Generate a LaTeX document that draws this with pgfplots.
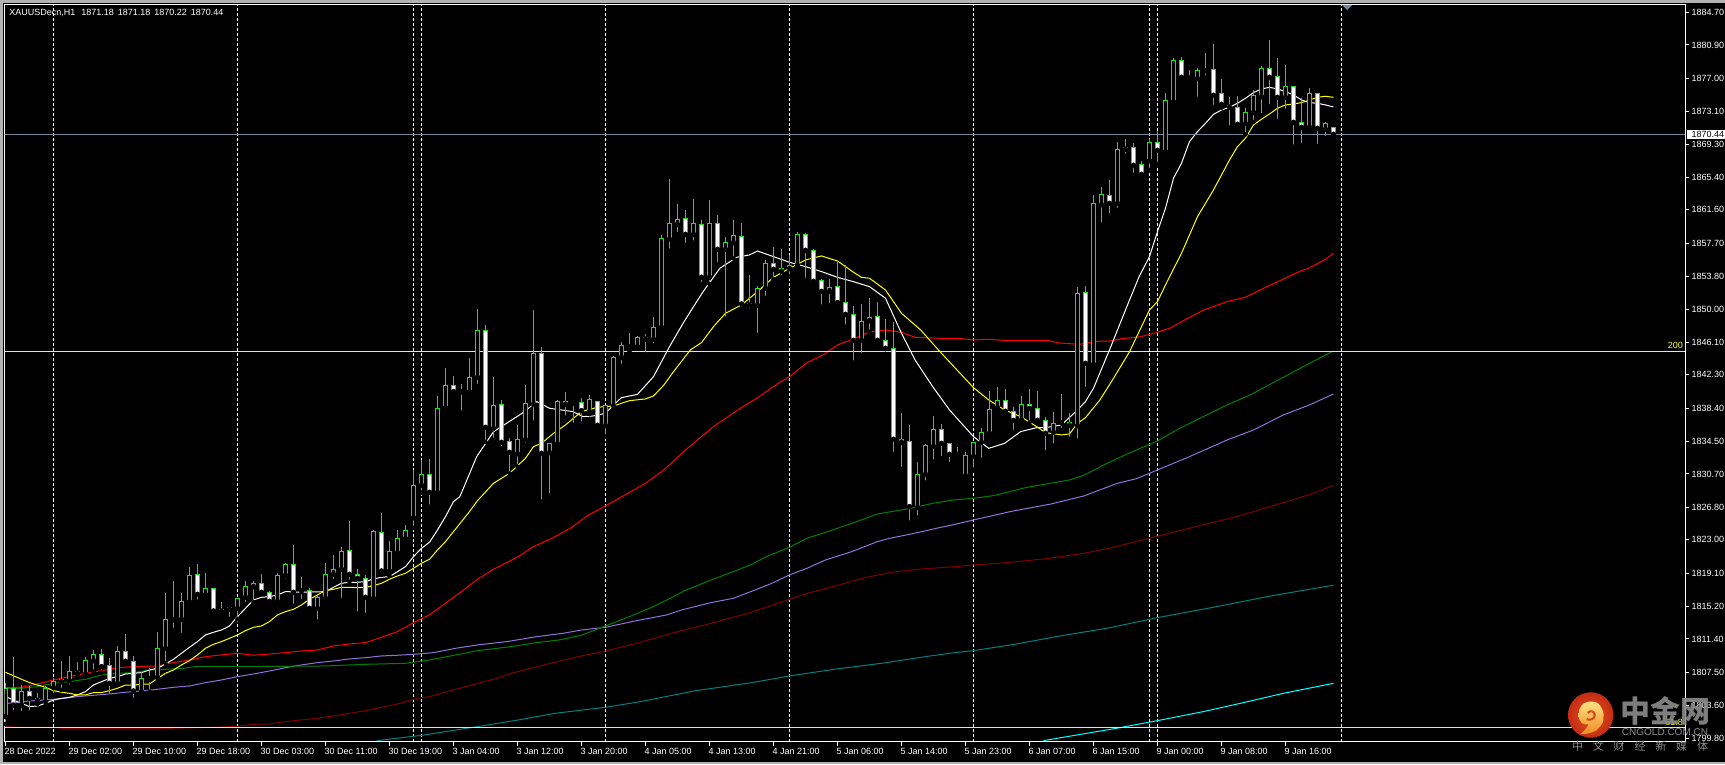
\documentclass[border=0pt]{standalone}
\usepackage{fontspec}
\usepackage{pgfplots}
\usepackage{pgfplotstable}
\pgfplotsset{compat=1.18}
\setmainfont{Liberation Sans}
\newfontfamily\cjk{Noto Sans CJK SC}
\definecolor{cgreen}{RGB}{25,230,25}
\definecolor{mapurple}{RGB}{147,112,219}
\definecolor{hgray}{RGB}{119,136,153}
\definecolor{mayel}{RGB}{255,255,0}
\definecolor{macya}{RGB}{0,255,255}
\definecolor{mared}{RGB}{255,0,0}
\definecolor{magre}{RGB}{0,128,0}
\definecolor{madrd}{RGB}{128,0,0}
\definecolor{matea}{RGB}{0,128,128}

% hourly candles: bar number, open, high, low, close
\pgfplotstableread{
i o h l c
0 1802.31 1806.21 1801.45 1805.62
1 1805.62 1809.33 1802.78 1803.67
2 1803.67 1806.01 1802.70 1805.23
3 1805.23 1805.90 1802.78 1804.45
4 1804.45 1805.12 1803.79 1804.18
5 1804.06 1805.90 1803.56 1805.62
6 1805.70 1806.79 1804.84 1806.40
7 1806.60 1808.82 1805.43 1806.40
8 1806.52 1809.41 1805.82 1807.57
9 1807.61 1808.67 1806.99 1807.38
10 1807.30 1809.33 1806.99 1808.86
11 1808.86 1810.11 1807.57 1809.60
12 1809.60 1810.23 1807.46 1808.16
13 1808.28 1809.21 1804.65 1806.21
14 1806.21 1810.58 1806.13 1809.91
15 1809.91 1811.94 1808.74 1808.78
16 1808.74 1809.41 1804.26 1805.31
17 1805.23 1807.57 1804.65 1806.79
18 1806.76 1807.96 1805.23 1806.70
19 1806.91 1812.18 1806.79 1810.30
20 1810.30 1816.74 1808.55 1813.70
21 1813.70 1818.22 1812.45 1813.64
22 1813.70 1816.74 1811.86 1815.76
23 1815.76 1819.78 1815.76 1818.85
24 1818.96 1820.17 1815.76 1816.62
25 1816.58 1819.08 1816.35 1817.32
26 1817.32 1817.32 1814.20 1814.67
27 1814.87 1815.69 1814.40 1814.63
28 1814.87 1815.06 1813.74 1815.06
29 1814.98 1816.15 1813.70 1816.15
30 1816.27 1818.18 1815.49 1817.52
31 1817.52 1818.18 1815.69 1817.91
32 1817.91 1818.96 1816.74 1816.86
33 1816.82 1817.05 1815.37 1815.80
34 1815.80 1819.08 1815.76 1818.85
35 1818.85 1820.25 1818.22 1820.13
36 1820.13 1822.36 1815.26 1816.86
37 1817.05 1818.61 1815.84 1816.99
38 1817.05 1817.32 1814.71 1814.98
39 1814.98 1816.54 1813.42 1816.27
40 1816.15 1820.25 1815.96 1818.96
41 1818.96 1821.22 1818.18 1819.55
42 1819.55 1822.12 1815.96 1821.61
43 1821.73 1825.20 1818.10 1818.96
44 1818.92 1819.59 1814.40 1818.49
45 1818.46 1818.88 1814.20 1816.27
46 1816.15 1824.15 1816.15 1823.99
47 1823.84 1826.10 1818.88 1819.35
48 1819.35 1822.86 1818.77 1821.61
49 1821.50 1824.15 1821.42 1823.14
50 1823.14 1824.73 1822.90 1824.07
51 1825.59 1831.17 1824.38 1829.38
52 1829.38 1832.34 1828.52 1830.66
53 1830.66 1832.46 1826.88 1828.56
54 1828.56 1839.83 1828.24 1838.38
55 1838.46 1843.10 1838.46 1841.08
56 1841.08 1842.17 1840.14 1840.33
57 1840.37 1841.19 1837.88 1840.31
58 1840.33 1844.27 1839.94 1842.01
59 1842.01 1850.01 1841.00 1847.51
60 1847.51 1848.13 1834.45 1836.16
61 1836.04 1842.05 1834.68 1838.74
62 1838.85 1839.36 1833.67 1834.41
63 1834.48 1834.87 1830.78 1833.24
64 1833.08 1836.43 1831.56 1834.76
65 1834.72 1841.11 1834.09 1838.97
66 1838.85 1849.89 1836.71 1844.82
67 1844.82 1845.52 1827.46 1833.12
68 1833.20 1834.29 1828.17 1834.29
69 1834.25 1839.36 1834.02 1839.20
70 1839.16 1840.30 1837.29 1838.85
71 1839.05 1839.36 1836.43 1838.99
72 1839.09 1839.55 1836.59 1838.11
73 1837.99 1839.94 1837.72 1839.44
74 1839.20 1839.20 1836.36 1836.40
75 1836.36 1838.66 1835.07 1838.66
76 1838.66 1844.51 1838.19 1844.35
77 1844.35 1846.15 1843.34 1845.76
78 1845.60 1847.16 1845.01 1845.54
79 1845.60 1846.89 1845.40 1846.69
80 1846.65 1847.08 1844.70 1846.46
81 1846.46 1849.03 1845.72 1847.86
82 1847.86 1858.63 1847.35 1858.24
83 1858.16 1865.22 1856.83 1860.03
84 1859.91 1862.29 1858.78 1860.50
85 1860.58 1861.59 1857.49 1858.74
86 1858.74 1862.88 1857.77 1860.03
87 1859.91 1860.42 1852.93 1853.71
88 1853.71 1862.76 1852.93 1860.03
89 1860.03 1861.00 1855.27 1856.99
90 1856.99 1858.39 1848.88 1857.81
91 1857.77 1860.42 1855.93 1858.63
92 1858.47 1860.03 1850.01 1850.59
93 1850.59 1853.98 1849.81 1850.44
94 1850.44 1852.70 1846.96 1852.42
95 1852.42 1855.74 1851.29 1855.35
96 1855.35 1857.22 1853.48 1854.65
97 1854.41 1857.03 1853.71 1854.76
98 1854.73 1856.32 1853.79 1855.12
99 1855.12 1859.05 1855.04 1858.74
100 1858.70 1858.94 1853.40 1856.87
101 1856.87 1857.03 1853.20 1853.24
102 1853.32 1853.48 1850.28 1852.07
103 1852.07 1853.52 1850.47 1852.54
104 1852.62 1855.62 1850.67 1850.75
105 1850.75 1855.12 1847.94 1849.38
106 1849.38 1850.36 1843.73 1846.34
107 1846.34 1850.59 1844.62 1848.52
108 1848.64 1851.29 1847.35 1849.03
109 1849.11 1850.79 1846.07 1846.34
110 1846.34 1848.84 1844.74 1845.40
111 1845.40 1848.45 1833.04 1834.76
112 1834.76 1837.80 1831.29 1834.41
113 1834.48 1836.44 1825.01 1826.88
114 1826.80 1832.11 1825.59 1830.66
115 1830.66 1834.21 1829.69 1833.98
116 1833.94 1837.49 1832.14 1835.93
117 1835.93 1836.55 1832.53 1834.29
118 1834.29 1834.29 1831.87 1833.00
119 1833.04 1833.86 1832.46 1832.98
120 1830.51 1833.28 1830.51 1832.89
121 1832.77 1834.41 1831.25 1834.41
122 1834.41 1836.08 1832.34 1835.58
123 1835.46 1840.41 1835.46 1838.27
124 1838.46 1840.84 1838.11 1839.32
125 1839.32 1840.65 1837.96 1838.03
126 1838.03 1838.58 1835.62 1836.98
127 1837.02 1839.83 1836.90 1838.85
128 1838.85 1840.65 1836.71 1838.38
129 1838.38 1840.45 1836.63 1836.98
130 1836.94 1837.33 1833.20 1835.46
131 1835.58 1837.92 1834.02 1836.63
132 1836.71 1840.06 1835.85 1836.65
133 1836.75 1837.80 1834.80 1836.40
134 1836.36 1852.54 1834.60 1851.84
135 1851.96 1852.70 1840.65 1843.65
136 1843.53 1863.34 1843.53 1862.37
137 1862.21 1864.24 1859.87 1863.42
138 1863.31 1865.10 1860.93 1862.37
139 1862.37 1869.55 1861.59 1868.69
140 1868.69 1869.90 1867.91 1868.92
141 1868.92 1869.39 1865.68 1866.82
142 1866.93 1867.32 1865.61 1865.76
143 1867.36 1869.86 1866.27 1869.51
144 1869.51 1870.87 1866.97 1868.57
145 1868.41 1875.24 1868.06 1874.42
146 1874.26 1879.33 1874.15 1879.10
147 1879.10 1879.49 1876.60 1877.11
148 1877.07 1877.97 1876.68 1877.01
149 1876.96 1878.16 1874.58 1877.93
150 1877.93 1879.96 1877.07 1877.87
151 1878.01 1881.01 1873.64 1875.01
152 1875.20 1876.88 1873.56 1873.95
153 1873.76 1874.77 1871.22 1873.60
154 1873.60 1874.93 1871.34 1871.61
155 1871.69 1873.48 1870.44 1873.02
156 1873.02 1875.63 1871.89 1875.01
157 1874.85 1878.44 1872.70 1878.16
158 1878.13 1881.48 1873.76 1877.11
159 1877.23 1879.37 1872.00 1874.77
160 1874.77 1878.52 1873.17 1876.02
161 1876.06 1876.06 1869.00 1871.85
162 1871.81 1874.69 1869.19 1871.26
163 1871.26 1875.82 1871.22 1875.24
164 1875.20 1875.24 1869.08 1871.14
165 1871.03 1871.89 1870.01 1871.73
166 1871.18 1871.18 1870.22 1870.44
}\candles

\pgfplotstableread{
i p
0 1804.65
1 1804.26
3 1803.48
4 1803.56
5 1803.87
6 1804.26
7 1804.45
8 1804.57
9 1804.85
10 1805.24
11 1806.02
12 1806.40
13 1806.79
14 1806.99
15 1807.30
16 1807.38
17 1807.46
18 1807.77
19 1807.97
20 1808.47
21 1809.02
22 1809.72
23 1810.42
24 1811.09
25 1811.87
26 1812.18
27 1812.45
28 1812.92
29 1814.01
30 1814.99
31 1815.96
32 1816.27
33 1816.35
34 1816.55
35 1816.94
36 1816.90
37 1816.86
38 1816.90
39 1816.90
40 1816.94
41 1817.44
42 1817.91
43 1818.03
44 1818.03
45 1818.11
46 1818.42
47 1818.61
48 1818.69
49 1819.27
50 1819.86
51 1821.03
52 1822.01
53 1822.71
54 1824.15
55 1825.71
56 1827.47
56.8 1828.05
58.9 1832.73
61 1835.65
62.5 1836.55
64.7 1837.88
66.4 1839.17
68 1838.39
70.9 1838.00
72.2 1837.41
73.5 1837.49
75 1837.80
76 1838.78
77 1839.63
79 1840.02
81 1842.09
83 1845.60
84.7 1848.33
86 1850.28
87.2 1852.03
89.3 1854.77
91.4 1856.05
93 1856.33
94 1856.79
96 1856.13
98 1855.47
100 1854.96
102 1854.38
104 1853.71
106 1853.20
108 1852.62
110 1851.26
112 1847.16
113.7 1844.04
115.9 1840.92
118 1838.19
121 1835.07
122.9 1833.70
124.9 1834.29
126.9 1835.66
128.9 1836.12
130 1836.12
132 1836.44
134 1838.19
135 1839.17
136 1840.73
138 1845.21
140 1849.89
141.7 1853.79
143 1856.13
144 1859.06
145 1861.79
146 1865.30
147 1867.05
148 1869.59
149 1870.76
150 1871.73
151 1872.78
152 1873.29
153 1873.60
154 1874.07
155 1874.66
156 1875.32
157 1875.75
158 1875.94
159 1875.75
160 1875.44
161 1875.05
162 1874.46
163 1874.15
164 1874.07
165 1873.88
166 1873.64
}\mawhite

\pgfplotstableread{
i p
0 1807.50
2 1806.68
3 1806.29
4 1806.01
5 1805.74
6 1805.35
7 1805.16
8 1805.04
9 1804.85
10 1804.85
11 1805.12
12 1805.12
13 1805.35
14 1805.63
15 1806.01
16 1806.01
17 1806.09
18 1806.13
19 1806.79
20 1807.38
21 1807.77
22 1808.36
23 1808.86
24 1809.53
25 1810.31
26 1810.77
27 1811.09
28 1811.47
29 1811.87
30 1812.37
31 1812.76
32 1812.92
33 1813.43
34 1814.21
35 1814.60
36 1814.87
37 1815.38
38 1816.04
39 1816.55
40 1817.05
41 1817.21
42 1817.44
43 1817.44
44 1817.40
45 1817.44
46 1817.64
47 1817.91
48 1818.38
49 1818.77
50 1819.08
51 1819.67
52 1820.25
53 1820.72
54 1821.81
55 1822.79
56 1823.96
57 1825.13
58 1826.30
59 1827.58
61 1829.61
63 1830.78
65 1832.54
66 1833.90
67 1834.29
68.5 1835.46
70 1836.44
72 1838.00
74 1838.50
76 1838.66
78 1839.28
80 1839.48
81 1839.83
82.3 1841.11
83.5 1842.67
85.6 1845.21
87 1846.07
88.5 1847.94
90 1849.50
92 1850.48
94 1852.03
96 1853.71
98 1854.76
100 1855.74
102 1856.21
104 1855.62
106 1854.30
107 1853.71
108 1853.60
110 1852.23
112 1849.50
114.4 1847.55
116.8 1845.02
121 1840.80
122.9 1839.36
124.9 1838.19
126.9 1837.41
128.9 1836.24
130 1835.54
132 1835.27
133 1835.38
134 1836.63
135 1837.29
136.8 1839.36
138.5 1841.89
140.5 1845.00
141.8 1847.55
143 1849.89
144 1850.87
145.2 1853.20
147 1856.52
149 1860.81
151 1863.93
153 1867.44
154 1869.00
155 1869.98
156 1871.54
157 1872.20
158 1872.82
159 1873.49
160 1873.88
161 1873.99
162 1874.15
163 1874.46
164 1874.77
165 1874.89
166 1874.77
}\mayellow

\pgfplotstableread{
i p
0 1805.70
2 1805.74
4 1806.13
6 1806.60
8 1806.99
10 1807.38
12 1807.69
14 1808.04
16 1808.16
19 1808.24
21 1808.63
23 1808.94
25 1809.33
27 1809.53
29 1809.72
31 1809.49
33 1809.64
35 1809.80
37 1809.99
39 1810.11
41 1810.58
43 1810.81
45 1810.97
47 1811.59
49 1812.25
51 1813.31
53 1814.21
55 1815.57
57 1816.94
59 1818.38
61 1819.55
64.1 1821.03
66 1822.20
68.3 1823.17
70.6 1824.35
72.9 1825.91
75 1826.96
80 1829.61
82.3 1831.17
85 1833.51
88.5 1836.24
91.4 1838.11
93.9 1839.55
96.8 1841.43
98 1842.09
100.2 1843.73
102.2 1844.63
104 1845.80
106 1846.50
108 1847.32
110 1847.55
112 1847.28
113.7 1846.69
116.7 1846.58
119 1846.58
121 1846.38
122.7 1846.46
124.8 1846.34
130.2 1846.34
131.7 1846.03
134.2 1845.87
136.5 1846.22
138.1 1846.26
139.6 1846.54
141.7 1846.73
144 1847.28
145.6 1847.78
147.7 1848.88
149.8 1849.89
152.7 1850.87
155 1851.37
156.8 1852.23
159.3 1853.32
161.8 1854.41
162.9 1854.77
165 1855.82
166 1856.52
}\mared

\pgfplotstableread{
i p
0 1805.63
2 1805.63
4 1805.82
6 1806.21
8 1806.40
10 1806.68
12 1807.19
14 1807.38
16 1807.46
18 1807.77
20 1807.85
22 1807.93
24 1808.20
29 1808.20
35 1808.20
40 1808.24
45 1808.43
50 1808.55
53 1808.94
56.3 1809.53
59 1810.03
63.2 1810.50
66.4 1810.97
69.2 1811.28
72 1811.83
75 1812.92
78 1814.01
80.8 1815.10
83.1 1816.16
84.9 1817.05
88.2 1818.30
91 1819.28
93.3 1820.13
95.1 1821.03
97.9 1822.08
100.2 1823.18
103 1824.03
105.8 1824.93
109 1826.02
113.2 1826.69
115.9 1827.27
118.5 1827.66
121 1827.86
123.5 1828.17
127.7 1829.14
133 1830.00
134.7 1830.51
137.7 1831.95
140.2 1833.04
144 1834.56
146.4 1835.85
149.3 1837.22
152.7 1838.78
155.6 1839.95
159.1 1841.70
162.5 1843.40
166 1845.10
}\magreen

\pgfplotstableread{
i p
0.3 1803.87
1 1803.95
3 1804.14
5 1804.26
7 1804.42
9 1804.65
11 1804.81
13 1804.96
15 1805.16
17 1805.31
19 1805.51
21 1805.74
23 1805.90
25 1806.29
27 1806.60
29 1806.99
31 1807.30
33 1807.65
35 1808.04
37 1808.36
39 1808.63
41 1808.82
43 1809.06
45 1809.21
47 1809.41
49 1809.49
51 1809.60
53.5 1809.80
56.3 1810.31
59 1810.70
62.7 1811.09
66.4 1811.67
69.7 1812.06
72 1812.45
75 1812.76
78.9 1813.54
82.6 1814.20
84.5 1814.79
88.2 1815.65
91 1816.16
93.7 1817.13
95.6 1817.83
98 1818.89
100.2 1819.67
102.5 1820.64
105.8 1821.62
109 1822.79
110.4 1823.14
114 1823.84
116.9 1824.46
118 1824.66
121 1825.32
125.6 1826.30
130.7 1827.19
134.8 1828.13
139 1829.61
141.4 1830.16
144 1831.17
148 1832.73
152.7 1834.68
156 1835.85
159.75 1837.61
163 1838.78
166 1840.06
}\mapurple

\pgfplotstableread{
i p
0 1801.14
2 1801.06
6 1801.06
7 1800.95
21 1800.95
26 1801.06
29 1801.18
31 1801.41
33 1801.45
35 1801.73
37 1801.92
39 1802.12
41 1802.39
43 1802.70
45 1803.01
47 1803.40
49 1803.79
51 1804.34
53 1804.65
57.2 1805.74
61.4 1806.79
63.2 1807.38
67.8 1808.47
72 1809.41
75 1809.99
78.9 1810.89
83.6 1812.14
88.2 1813.23
92.8 1814.40
95.6 1815.26
98 1816.04
100.2 1816.74
103.9 1817.64
107.6 1818.61
110.8 1819.20
114 1819.55
118.7 1819.86
121 1820.06
125.2 1820.33
130.2 1820.80
134.8 1821.42
138 1822.01
143 1823.18
148 1824.35
153.9 1825.71
159.75 1827.35
163.5 1828.44
166 1829.38
}\madarkred

\pgfplotstableread{
i p
46.4 1799.50
52.1 1800.13
57.7 1800.95
64.1 1801.92
68.7 1802.70
75 1803.40
79.4 1804.07
86.3 1805.35
93.3 1806.29
98 1807.07
103.9 1807.89
109.5 1808.55
115 1809.33
118 1809.72
121 1810.03
126.4 1810.81
131.8 1811.75
137.7 1812.65
144 1813.89
151.4 1815.18
157.7 1816.35
163 1817.21
166 1817.68
}\mateal

\pgfplotstableread{
i p
129.75 1799.50
132.2 1799.89
138.9 1800.95
144 1801.84
149.75 1802.90
154.75 1803.95
159.75 1805.04
166 1806.21
}\macyan

\begin{document}
\begin{tikzpicture}[x=1pt,y=1pt]
\path[use as bounding box] (0,0) rectangle (1725,764);
\fill[black] (0,0) rectangle (1725,764);
% window edge
\fill[gray!60] (0,0) rectangle (3,764);
\fill[gray!60] (0,761) rectangle (1725,764);
\fill[gray!60] (0,0) rectangle (1725,2);
\begin{axis}[
at={(4.5pt,22.5pt)},
anchor=south west,
scale only axis,
width=1681pt,
height=737pt,
xmin=-0.125,
xmax=210,
ymin=1799.40,
ymax=1885.63,
clip mode=individual,
axis line style={white,line width=1pt},
xtick pos=lower,
ytick pos=right,
yticklabel pos=right,
tick align=outside,
major tick length=4pt,
tick style={white,line width=1pt},
xtick={0,8,16,24,32,40,48,56,64,72,80,88,96,104,112,120,128,136,144,152,160},
xticklabels={28 Dec 2022,29 Dec 02:00,29 Dec 10:00,29 Dec 18:00,30 Dec 03:00,30 Dec 11:00,30 Dec 19:00,3 Jan 04:00,3 Jan 12:00,3 Jan 20:00,4 Jan 05:00,4 Jan 13:00,4 Jan 21:00,5 Jan 06:00,5 Jan 14:00,5 Jan 23:00,6 Jan 07:00,6 Jan 15:00,9 Jan 00:00,9 Jan 08:00,9 Jan 16:00},
ytick={1799.8,1803.6,1807.5,1811.4,1815.2,1819.1,1823,1826.8,1830.7,1834.5,1838.4,1842.3,1846.1,1850,1853.8,1857.7,1861.6,1865.4,1869.3,1873.1,1877,1880.9,1884.7},
scaled y ticks=false,
/pgf/number format/fixed,
/pgf/number format/fixed zerofill,
/pgf/number format/precision=2,
/pgf/number format/1000 sep={},
/pgf/number format/assume math mode=true,
tick label style={font=\fontsize{9}{10}\selectfont,text=white},
xticklabel style={anchor=north west,inner xsep=0pt,xshift=-1pt,yshift=1pt},
yticklabel style={anchor=west,inner xsep=0pt,xshift=2pt},
extra x ticks={6,29,51,52,75,98,121,143,144,167},
extra x tick labels={},
extra x tick style={grid=major,major grid style={white,line width=1pt,dash pattern=on 3pt off 2pt},major tick length=0pt},
]
% moving averages
\addplot[mapurple,line width=1pt] table[x=i,y=p] {\mapurple};
\addplot[magre,line width=1pt] table[x=i,y=p] {\magreen};
\addplot[madrd,line width=1pt] table[x=i,y=p] {\madarkred};
\addplot[matea,line width=1pt] table[x=i,y=p] {\mateal};
\addplot[macya,line width=1pt] table[x=i,y=p] {\macyan};
\addplot[mared,line width=1pt] table[x=i,y=p] {\mared};
\addplot[white,line width=1pt] table[x=i,y=p] {\mawhite};
\addplot[mayel,line width=1pt] table[x=i,y=p] {\mayellow};
% level lines
\addplot[mayel,line width=1pt] coordinates {(-1,1845.03) (211,1845.03)};
\addplot[mayel,line width=1pt] coordinates {(-1,1801.03) (211,1801.03)};
\addplot[hgray,line width=1pt] coordinates {(-1,1870.42) (211,1870.42)};
% wicks
\addplot[only marks,mark=none,error bars/.cd,y dir=plus,y explicit,error mark=none,
error bar style={draw=cgreen,line width=1pt}]
table[x=i,y=l,y error plus expr={\thisrow{h}-\thisrow{l}}] {\candles};
% candle bodies: outline, then inside
\addplot[only marks,mark=none,error bars/.cd,y dir=plus,y explicit,error mark=none,
error bar style={draw=cgreen,line width=5pt}]
table[x=i,y expr={min(\thisrow{o},\thisrow{c})-0.0585},y error plus expr={abs(\thisrow{o}-\thisrow{c})+0.117}] {\candles};
\addplot[only marks,mark=none,error bars/.cd,y dir=plus,y explicit,error mark=none,
error bar style={draw=black,line width=3pt}]
table[x=i,y expr={min(\thisrow{o},\thisrow{c})+0.0585},y error plus expr={max(abs(\thisrow{o}-\thisrow{c})-0.117,0)}] {\candles};
\addplot[only marks,mark=none,error bars/.cd,y dir=plus,y explicit,error mark=none,
error bar style={draw=white,line width=3pt}]
table[x=i,y expr={min(\thisrow{o},\thisrow{c})+0.0585},y error plus expr={\thisrow{o}>\thisrow{c} ? max(\thisrow{o}-\thisrow{c}-0.117,0) : 0}] {\candles};
\node[anchor=west,inner sep=0pt,text=white,font=\fontsize{9}{10}\selectfont] at (axis cs:0.46,1884.7) {XAUUSDecn,H1\hspace{6pt}1871.18\hspace{4pt}1871.18\hspace{4pt}1870.22\hspace{4pt}1870.44};
\node[anchor=east,inner sep=0pt,text=mayel,font=\fontsize{9}{10}\selectfont] at (axis cs:209.7,1845.79) {200};
\node[anchor=east,inner sep=0pt,text=mayel,font=\fontsize{9}{10}\selectfont] at (axis cs:209.7,1801.68) {61.8};
\end{axis}
% shift marker
\fill[hgray] (1342,759) -- (1352,759) -- (1347,754) -- cycle;
% current price tag
\fill[white] (1687,625) rectangle (1725,634);
\node[anchor=west,inner sep=0pt,text=black,font=\fontsize{9}{10}\selectfont] at (1691.5,629.5) {1870.44};
% site logo
\begin{scope}[shift={(1590.7,49)}]
\shade[inner color={rgb,255:red,232;green,82;blue,28},outer color={rgb,255:red,196;green,44;blue,20}] (0,0) circle (22.7);
\shade[top color={rgb,255:red,255;green,226;blue,130},bottom color={rgb,255:red,238;green,140;blue,36}]
(-10.7,-19.3) .. controls (0,-19) and (6,-16) .. (7.7,-13.3) .. controls (11,-10) and (13,-7) .. (12.7,-3.3) .. controls (13,2) and (13,4) .. (11,6.7) .. controls (9,11) and (6,13) .. (2.7,13.3) .. controls (-1,14) and (-4,13) .. (-7,11.7) .. controls (-10,9) and (-12,5) .. (-12,1.7) .. controls (-12.5,-3) and (-11,-6) .. (-9,-8) .. controls (-7,-9.5) and (-4,-10) .. (-2,-9) .. controls (-4,-13) and (-7,-17) .. (-10.7,-19.3) -- cycle;
\draw[line width=2pt,color={rgb,255:red,214;green,70;blue,24}] (-4,-4) .. controls (-1,-6) and (4,-4) .. (4,0) .. controls (4,4) and (-1,5) .. (-3,2);
\end{scope}
\node[inner sep=0pt,text=gray!90,opacity=0.9,font=\cjk\bfseries\fontsize{30}{32}\selectfont] at (1665,53) {中金网};
\node[inner sep=0pt,text=gray!90,font=\fontsize{10}{11}\selectfont] at (1665,32) {CNGOLD.COM.CN};
\node[inner sep=0pt,text=gray!90,font=\cjk\fontsize{11}{12}\selectfont] at (1640,18) {\makebox[136pt][s]{中\hfil 文\hfil 财\hfil 经\hfil 新\hfil 媒\hfil 体}};
\end{tikzpicture}
\end{document}
